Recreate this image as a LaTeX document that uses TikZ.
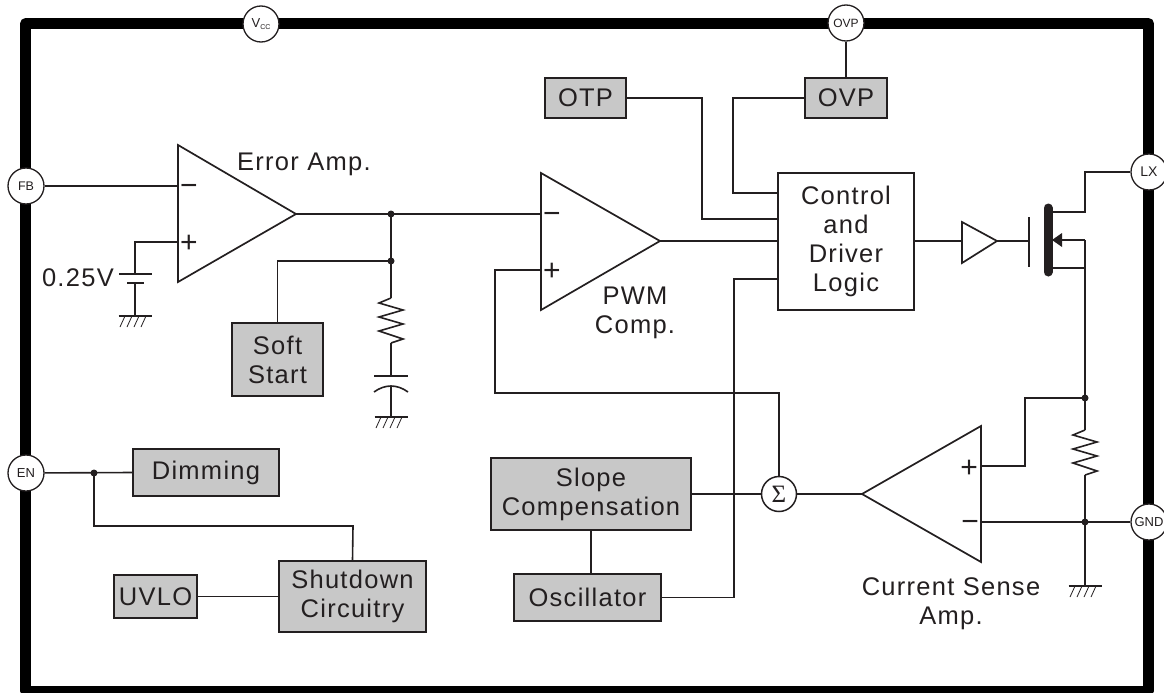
\documentclass[tikz,border=0pt]{standalone}
\usepackage{fontspec}
\setmainfont{Liberation Sans}
\newfontfamily\lab[LetterSpace=5]{Liberation Sans}
\newfontfamily\serifsym{Liberation Serif}
\definecolor{ink}{RGB}{35,31,32}
\definecolor{boxgray}{RGB}{200,200,200}
\newcommand{\gndsym}[1]{%
  \draw[wire] ([xshift=-16.5pt]#1) -- ([xshift=16.5pt]#1);
  \foreach \dx in {-10,-3,4,11}{\draw[ink,line width=0.8pt] ([xshift=\dx pt]#1) -- ([xshift=\dx pt-5pt,yshift=-11pt]#1);}%
}
\newcommand{\zigzag}[1]{%
  \draw[wire] (#1) -- ++(-12,5) -- ++(24,7) -- ++(-24,7) -- ++(24,7) -- ++(-24,7) -- ++(24,8) -- ++(-12,4);
}
\tikzset{
  wire/.style={ink,line width=1.6pt,line join=miter},
  gbox/.style={draw=ink,line width=1.6pt,fill=boxgray,inner sep=0pt,align=center,font=\fontsize{25.5}{29}\lab,text=ink},
  wbox/.style={gbox,fill=white},
  pin/.style={draw=ink,line width=1.3pt,fill=white,circle,minimum size=36pt,inner sep=0pt,text=ink},
  lbl/.style={inner sep=0pt,align=center,font=\fontsize{25.5}{29}\lab,text=ink},
  sgn/.style={inner sep=0pt,font=\fontsize{30}{30}\selectfont,text=ink},
  amp/.style={draw=ink,line width=1.7pt,line join=miter,fill=white},
  dot/.style={circle,fill=ink,inner sep=0pt,minimum size=7pt},
}
\begin{document}
\begin{tikzpicture}[x=1pt,y=-1pt]
\useasboundingbox (0,0) rectangle (1164,693);
% package outline
\begin{scope}
\clip (0,0) rectangle (1164,693);
\draw[black,line width=10.5pt,line join=round] (25.7,23.3) rectangle (1148.7,691);
\end{scope}
% pins
\node[pin,font=\fontsize{13}{13}\selectfont] (vcc) at (261,24) {V\raisebox{-2pt}{\fontsize{7}{7}\selectfont CC}};
\node[pin,font=\fontsize{12}{12}\selectfont] (ovppin) at (846,23) {OVP};
\node[pin,font=\fontsize{12.5}{12.5}\selectfont] (fb) at (26,186) {FB};
\node[pin,font=\fontsize{13}{13}\selectfont] (en) at (26,473) {EN};
\node[pin,font=\fontsize{14}{14}\selectfont] (lx) at (1149,172) {LX};
\node[pin,font=\fontsize{13}{13}\selectfont] (gnd) at (1149,522) {GND};
% boxes
\node[gbox,minimum width=91pt,minimum height=73pt] (soft) at (277.5,359.5) {Soft\\Start};
\node[gbox,minimum width=81pt,minimum height=40pt] (otp) at (585.5,98) {OTP};
\node[gbox,minimum width=82pt,minimum height=40pt] (ovp) at (846,98) {OVP};
\node[wbox,minimum width=136pt,minimum height=137pt] (ctrl) at (846,241.5) {Control\\and\\Driver\\Logic};
\node[gbox,minimum width=146pt,minimum height=47pt] (dim) at (206,472.5) {Dimming};
\node[gbox,minimum width=200pt,minimum height=72pt] (slope) at (591,494) {Slope\\Compensation};
\node[gbox,minimum width=147pt,minimum height=47pt] (osc) at (587.5,597.5) {Oscillator};
\node[gbox,minimum width=147pt,minimum height=71pt] (shut) at (352.5,596.5) {Shutdown\\Circuitry};
\node[gbox,minimum width=83pt,minimum height=43pt] (uvlo) at (155.5,596.5) {UVLO};
\node[draw=ink,line width=1.5pt,fill=white,circle,minimum size=35pt,inner sep=0pt,font=\fontsize{25}{25}\serifsym,text=ink] (sum) at (779,494) {Σ};
% named points
\coordinate (eaM) at (178,186); \coordinate (eaP) at (178,242); \coordinate (eaO) at (296,214);
\coordinate (pwM) at (541,214); \coordinate (pwP) at (541,270); \coordinate (pwO) at (660,241);
\coordinate (csM) at (981,522); \coordinate (csP) at (981,466); \coordinate (csO) at (862,494);
\coordinate (bufI) at (962,241); \coordinate (bufO) at (997,241);
\coordinate (gate) at (1029,241);
\coordinate (batTop) at (135,274); \coordinate (batBot) at (135,283); \coordinate (gnd1) at (135,316);
\coordinate (r1t) at (391,298); \coordinate (r1b) at (391,343);
\coordinate (c1t) at (391,376); \coordinate (c1b) at (391,387); \coordinate (gnd2) at (391,417);
\coordinate (n1) at (391,214); \coordinate (n2) at (391,261);
\coordinate (n3) at (94,473);
\coordinate (n4) at (1085,398); \coordinate (n5) at (1085,522);
\coordinate (r2t) at (1085,430); \coordinate (r2b) at (1085,475);
\coordinate (gnd3) at (1085,586);
\coordinate (drain) at (1052,212); \coordinate (source) at (1052,268); \coordinate (body) at (1062,240);
\coordinate (sJ) at (1085,240);
\coordinate (slopeS) at (591,530); \coordinate (oscN) at (591,574);
% amplifiers
\draw[amp] (178,145) -- (296,214) -- (178,282) -- cycle;
\draw[amp] (541,173) -- (660,241) -- (541,310) -- cycle;
\draw[amp] (981,426) -- (862,494) -- (981,562) -- cycle;
\draw[amp] (962,222) -- (997,241) -- (962,263) -- cycle;
% signs
\node[sgn] at (189,190) {\textminus};
\node[sgn] at (189,244) {+};
\node[sgn] at (552,218) {\textminus};
\node[sgn] at (552,272) {+};
\node[sgn] at (970,526) {\textminus};
\node[sgn] at (969,469) {+};
% connectors
\draw[wire] (fb) -- (eaM);
\draw[wire] (eaP) -| (batTop);
\draw[wire] (batBot) -- (gnd1);
\draw[wire] (119,274) -- (152,274);
\draw[wire] (127,283) -- (144,283);
\gndsym{gnd1}
\draw[wire] (eaO) -- (pwM);
\draw[wire] (n1) -- (r1t);
\draw[wire] (n2) -| (soft.north);
\zigzag{r1t}
\draw[wire] (r1b) -- (c1t);
\draw[wire] (374,376) -- (408,376);
\draw[wire] (374,392) .. controls (385,384) and (397,384) .. (408,392);
\draw[wire] (c1b) -- (gnd2);
\gndsym{gnd2}
\draw[wire] (pwO) -- (pwO -| ctrl.west);
\draw[wire] (pwP) -| (495,393) -| (sum.north);
\draw[wire] (otp.east) -| (702,219) -- (702,219 -| ctrl.west);
\draw[wire] (ovp.west) -| (733,193) -- (733,193 -| ctrl.west);
\draw[wire] (ovppin) -- (ovp);
\draw[wire] (slope.east) -- (sum);
\draw[wire] (sum) -- (csO);
\draw[wire] (slopeS) -- (oscN);
\draw[wire] (osc.east) -| (734,279) -- (734,279 -| ctrl.west);
\draw[wire] (ctrl.east |- bufI) -- (bufI);
\draw[wire] (bufO) -- (gate);
\draw[ink,line width=1.7pt] (1029,217) -- (1029,267);
\draw[ink,line width=9pt,line cap=round] (1048,208) -- (1048,272);
\draw[wire] (drain) -| (1085,172) -- (lx);
\draw[wire] (source) -| (sJ);
\draw[wire] (body) -- (sJ);
\draw[wire] (sJ) -- (n4);
\fill[ink] (1052,240) -- (1062,233) -- (1062,247) -- cycle;
\draw[wire] (csP) -| (1025,398) -- (n4);
\draw[wire] (n4) -- (r2t);
\zigzag{r2t}
\draw[wire] (r2b) -- (n5);
\draw[wire] (csM) -- (gnd);
\draw[wire] (n5) -- (gnd3);
\gndsym{gnd3}
\draw[wire] (en) -- (dim.west);
\draw[wire] (n3) |- (353,526) -- (shut.north);
\draw[wire] (uvlo.east) -- (uvlo.east -| shut.west);
% dots
\foreach \p in {n1,n2,n3,n4,n5}{\node[dot] at (\p) {};}
% labels
\node[lbl,anchor=west] (l1) at (237,164) {Error Amp.};
\node[lbl,anchor=east] (l2) at (114,278) {0.25V};
\node[lbl] (l3) at (635,313) {PWM\\Comp.};
\node[lbl] (l4) at (951,604) {Current Sense\\Amp.};
\end{tikzpicture}
\end{document}
